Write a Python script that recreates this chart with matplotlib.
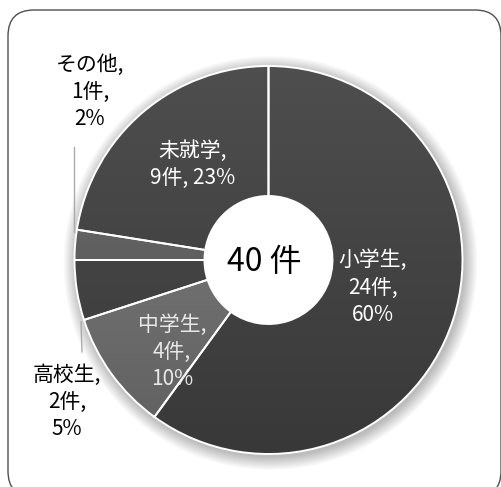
import numpy as np
import matplotlib
matplotlib.use("Agg")
import matplotlib.pyplot as plt
from matplotlib.patches import Circle, FancyBboxPatch

plt.rcParams['font.family'] = ['Noto Sans CJK JP', 'DejaVu Sans']

# ---- data ----
categories = ["小学生", "中学生", "高校生", "その他", "未就学"]
counts = [24, 4, 2, 1, 9]
pct_labels = [60, 10, 5, 2, 23]
total_label = "40 件"
colors = ["#4e4e4e", "#838383", "#4e4e4e", "#6e6e6e", "#4e4e4e"]

W, H = 502, 487
fig = plt.figure(figsize=(W / 100, H / 100), dpi=100)
ax = fig.add_axes([0, 0, 1, 1])

def py(y):
    return H - y

def fix_axes():
    ax.set_xlim(0, W)
    ax.set_ylim(0, H)
    ax.axis('off')

fix_axes()

# outer rounded frame
frame = FancyBboxPatch((8, py(497)), 493, 487, boxstyle="round,pad=0,rounding_size=26",
                       facecolor='white', edgecolor='#505050', linewidth=1.0, zorder=0)
ax.add_patch(frame)

cx, cy = 268.5, py(260)
R, r_in = 194, 64

# soft shadow
for k in range(14):
    ax.add_patch(Circle((cx + 2, cy - 3), R + 13 - k, facecolor='black',
                        edgecolor='none', alpha=0.018, zorder=1))

wedges, _ = ax.pie(counts, startangle=90, counterclock=False, radius=R, center=(cx, cy),
                   colors=colors, wedgeprops=dict(width=R - r_in, edgecolor='none', linewidth=0),
                   frame=True)
fix_axes()
for w in wedges:
    w.set_zorder(2)

# white hole
ax.add_patch(Circle((cx, cy), r_in, facecolor='white', edgecolor='none', zorder=2.5))

# vertical gradient (darker toward bottom), clipped to each wedge
grad = np.linspace(0, 1, 256).reshape(-1, 1)
rgba = np.zeros((256, 1, 4))
rgba[..., 3] = grad * 0.28
for w in wedges:
    im = ax.imshow(rgba, extent=(cx - R, cx + R, cy - R, cy + R), origin='upper',
                   aspect='auto', zorder=3, interpolation='bilinear')
    im.set_clip_path(w)

# white edges on top
ax.pie(counts, startangle=90, counterclock=False, radius=R, center=(cx, cy),
       colors=['none'] * len(counts),
       wedgeprops=dict(width=R - r_in, edgecolor='white', linewidth=1.4, zorder=4),
       frame=True)
fix_axes()

# center text
ax.text(264, py(262), total_label, ha='center', va='center', fontsize=23, color='black', zorder=6)

# labels
label_pos = {
    "小学生": (373, 287.5, 'white'),
    "中学生": (172, 352, '#e8e8e8'),
    "高校生": (67, 402, 'black'),
    "その他": (90, 92, 'black'),
    "未就学": (193, 164.5, 'white'),
}
for cat, n, p in zip(categories, counts, pct_labels):
    x, y, col = label_pos[cat]
    if cat == "未就学":
        s = f"{cat},\n{n}件, {p}%"
    else:
        s = f"{cat},\n{n}件,\n{p}%"
    ax.text(x, py(y), s, ha='center', va='center', multialignment='center',
            fontsize=15, color=col, linespacing=1.3, zorder=6)

# leader lines
ax.plot([74, 74], [py(147), py(232)], color='#aaaaaa', lw=1, zorder=5)
ax.plot([81, 82], [py(322), py(352)], color='#aaaaaa', lw=1, zorder=5)

fig.savefig("out.png", dpi=100)
